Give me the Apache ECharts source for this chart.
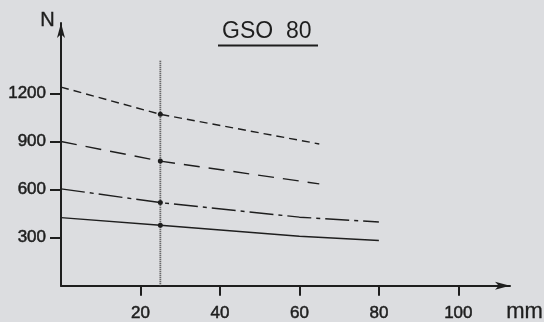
<!DOCTYPE html>
<html><head><meta charset="utf-8">
<script src="https://cdn.jsdelivr.net/npm/echarts@6/dist/echarts.min.js"></script>
<style>html,body{margin:0;padding:0;background:#dcdde0;}#c{width:544px;height:322px;}</style>
</head><body><div id="c"></div>
<script>
// data
const xTicks = [20, 40, 60, 80, 100];
const yTicks = [300, 600, 900, 1200];
const markX = 25;
const markLine = [[25, 0], [25, 1410]];
const curveShortDash = [[0, 1240], [25, 1070], [65, 885]];
const curveLongDash = [[0, 900], [25, 778], [65, 636]];
const curveDashDot = [[0, 605], [25, 519], [60, 428], [80, 398]];
const curveSolid = [[0, 425], [25, 378], [60, 309], [80, 282]];
const titleText = 'GSO  80';

const ink = '#1e1e1e';
const chart = echarts.init(document.getElementById('c'), null, {renderer: 'canvas'});
function curve(data, type) {
  return {
    type: 'line', data: data, smooth: false, z: 3,
    symbol: 'circle',
    symbolSize: v => (v[0] === markX ? 5 : 0),
    itemStyle: {color: ink},
    lineStyle: {color: ink, width: 1.4, type: type},
    silent: true, animation: false
  };
}
const labelStyle = {color: ink, fontSize: 17, fontFamily: 'Liberation Sans', textBorderColor: ink, textBorderWidth: 0.5, formatter: v => String(v)};
chart.setOption({
  backgroundColor: '#dcdde0',
  animation: false,
  grid: {left: 61, right: 34, top: 23, bottom: 29},
  xAxis: {
    type: 'value', min: 0, max: 113,
    axisLine: {show: true, lineStyle: {color: ink, width: 2}, symbol: ['none', 'arrow'], symbolSize: [6, 15]},
    axisTick: {show: true, length: 10, lineStyle: {color: ink, width: 2}, customValues: xTicks},
    axisLabel: Object.assign({margin: 19, customValues: xTicks}, labelStyle),
    splitLine: {show: false}
  },
  yAxis: {
    type: 'value', min: 0, max: 1640,
    axisLine: {show: true, lineStyle: {color: ink, width: 2}, symbol: ['none', 'arrow'], symbolSize: [6, 15]},
    axisTick: {show: true, length: 11, lineStyle: {color: ink, width: 2}, customValues: yTicks},
    axisLabel: Object.assign({margin: 15, customValues: yTicks}, labelStyle),
    splitLine: {show: false}
  },
  graphic: [
    {type: 'text', left: 40, top: 10, style: {text: 'N', fontSize: 20, fontFamily: 'Liberation Sans', fill: ink, stroke: ink, lineWidth: 0.4}},
    {type: 'text', left: 506, top: 301, style: {text: 'mm', fontSize: 22, fontFamily: 'Liberation Sans', fill: ink, stroke: ink, lineWidth: 0.3}},
    {type: 'text', left: 222, top: 20, style: {text: titleText, fontSize: 23, fontFamily: 'Liberation Sans', fill: ink}},
    {type: 'rect', shape: {x: 218, y: 44.5, width: 100, height: 2}, style: {fill: ink}}
  ],
  series: [
    {type: 'line', data: markLine, symbol: 'none', z: 2, lineStyle: {color: '#444', width: 1.8, type: [1, 1]}, silent: true},
    curve(curveShortDash, [8, 5]),
    curve(curveLongDash, [16, 9]),
    curve(curveDashDot, [24, 5, 4, 5]),
    curve(curveSolid, 'solid')
  ]
});
</script></body></html>
